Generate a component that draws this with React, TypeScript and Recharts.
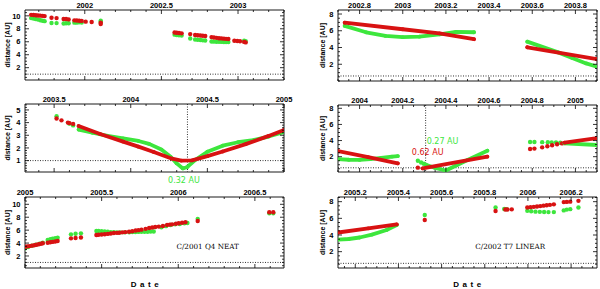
import React from 'react';
import { ScatterChart, Scatter, XAxis, YAxis, ReferenceLine, ReferenceArea, ReferenceDot } from 'recharts';

type Pt = [number, number];

const RED = '#d81212';
const GREEN = '#3de63d';
const SANS = '"Liberation Sans", Arial, sans-serif';
const DEJAVU = '"DejaVu Sans", sans-serif';
const SERIF = '"DejaVu Serif", serif';

// ---------- C/2001 Q4 NEAT: top-left ----------
const tlRedA: Pt[] = [[2001.65,10.15],[2001.665,10.12],[2001.68,10.1],[2001.695,10.06],[2001.71,10.03],[2001.725,10.0],[2001.738,9.96]];
const tlGreenA: Pt[] = [[2001.65,9.65],[2001.665,9.58],[2001.68,9.5],[2001.695,9.42],[2001.71,9.32],[2001.725,9.25],[2001.738,9.18]];
const tlRedB: Pt[] = [[2001.783,9.7],[2001.816,9.65],[2001.862,9.5],[2001.878,9.5],[2001.895,9.45],[2001.932,9.3],[2001.948,9.28],[2001.964,9.25],[2001.98,9.22],[2002.006,9.1],[2002.045,9.05],[2002.104,8.95],[2002.104,8.75]];
const tlGreenB: Pt[] = [[2001.783,8.9],[2001.816,8.88],[2001.862,8.82],[2001.878,8.85],[2001.895,8.85],[2001.932,8.95],[2001.948,8.95],[2001.964,9.0],[2001.98,8.98],[2002.104,9.25],[2002.104,9.1]];
const tlRedC: Pt[] = [[2002.586,7.42],[2002.6,7.38],[2002.615,7.35],[2002.632,7.3],[2002.688,7.18],[2002.72,7.05],[2002.737,7.0],[2002.754,6.97],[2002.77,6.93],[2002.786,6.88],[2002.827,6.72],[2002.843,6.66],[2002.86,6.6],[2002.876,6.55],[2002.892,6.52],[2002.908,6.48],[2002.922,6.45],[2002.937,6.42],[2002.976,6.15],[2002.995,6.12],[2003.013,6.08],[2003.04,5.98],[2003.05,5.9]];
const tlGreenC: Pt[] = [[2002.586,7.1],[2002.6,7.05],[2002.615,7.0],[2002.632,6.95],[2002.688,6.5],[2002.72,6.35],[2002.737,6.3],[2002.754,6.26],[2002.77,6.22],[2002.786,6.2],[2002.827,6.05],[2002.843,6.02],[2002.86,6.0],[2002.876,6.0],[2002.892,5.98],[2002.908,5.97],[2002.922,5.96],[2002.937,5.95],[2003.04,6.15],[2003.05,6.1]];

// ---------- middle-left ----------
const mlRedA: Pt[] = [[2003.516,4.32],[2003.548,4.18],[2003.59,4.0],[2003.6,3.96],[2003.624,3.9]];
const mlGreenA: Pt[] = [[2003.516,4.5],[2003.6,3.92],[2003.624,3.78]];
const mlGreenB: Pt[] = [[2003.66,3.45],[2003.75,3.2],[2003.85,2.95],[2003.95,2.75],[2004.05,2.55],[2004.12,2.32],[2004.2,1.87],[2004.26,1.3],[2004.3,0.78],[2004.34,0.38],[2004.37,0.5],[2004.42,1.05],[2004.5,1.7],[2004.6,2.18],[2004.7,2.45],[2004.8,2.62],[2004.9,2.9],[2005.0,3.25]];
const mlRedB: Pt[] = [[2003.66,3.73],[2003.8,3.1],[2003.95,2.5],[2004.05,2.1],[2004.15,1.68],[2004.27,1.15],[2004.33,1.0],[2004.4,1.02],[2004.5,1.35],[2004.6,1.72],[2004.75,2.3],[2004.9,2.95],[2005.0,3.42]];

// ---------- bottom-left ----------
const blRedA: Pt[] = [[2005.0,3.44],[2005.015,3.48],[2005.03,3.53],[2005.045,3.6],[2005.06,3.67],[2005.075,3.75],[2005.09,3.82],[2005.104,3.9],[2005.116,3.96]];
const blGreenA: Pt[] = [[2005.0,3.2],[2005.02,3.4],[2005.045,3.58],[2005.07,3.75],[2005.095,3.92],[2005.116,4.06]];
const blRedB: Pt[] = [[2005.148,4.06],[2005.165,4.12],[2005.18,4.18],[2005.197,4.25],[2005.213,4.32]];
const blGreenB: Pt[] = [[2005.148,4.47],[2005.165,4.58],[2005.18,4.68],[2005.197,4.75],[2005.213,4.83]];
const blRedC: Pt[] = [[2005.3,4.73],[2005.33,4.78],[2005.365,4.85]];
const blGreenC: Pt[] = [[2005.3,5.35],[2005.33,5.45],[2005.365,5.5]];
const blGreenD: Pt[] = [[2005.466,5.87],[2005.48,5.86],[2005.5,5.84],[2005.52,5.8],[2005.54,5.75],[2005.56,5.7],[2005.58,5.68],[2005.6,5.66],[2005.62,5.65],[2005.65,5.66],[2005.68,5.68],[2005.7,5.7],[2005.72,5.72],[2005.74,5.73],[2005.76,5.74],[2005.78,5.75],[2005.8,5.76],[2005.82,5.78],[2005.84,5.78],[2005.89,6.45],[2005.92,6.62],[2005.95,6.8],[2005.98,6.9],[2006.01,6.95],[2006.04,7.05],[2006.06,7.1]];
const blRedD: Pt[] = [[2005.466,5.25],[2005.48,5.28],[2005.5,5.32],[2005.52,5.36],[2005.54,5.42],[2005.56,5.48],[2005.58,5.55],[2005.6,5.58],[2005.614,5.6],[2005.635,5.66],[2005.655,5.7],[2005.679,5.76],[2005.7,5.84],[2005.722,5.94],[2005.74,6.0],[2005.76,6.08],[2005.787,6.2],[2005.81,6.33],[2005.83,6.42],[2005.85,6.48],[2005.873,6.55],[2005.9,6.65],[2005.927,6.8],[2005.945,6.86],[2005.96,6.9],[2005.985,7.0],[2006.003,7.06],[2006.025,7.14],[2006.047,7.21]];
const blRedE: Pt[] = [[2006.127,7.41],[2006.594,8.76],[2006.62,8.76]];
const blGreenE: Pt[] = [[2006.127,7.75],[2006.594,8.62],[2006.62,8.62]];

// ---------- C/2002 T7 LINEAR: top-right ----------
const trGreenA: Pt[] = [[2002.731,6.58],[2002.83,5.82],[2002.92,5.38],[2003.0,5.23],[2003.077,5.3],[2003.17,5.58],[2003.246,5.86],[2003.33,5.82]];
const trRedA: Pt[] = [[2002.731,6.97],[2003.0,6.18],[2003.17,5.7],[2003.33,4.99]];
const trGreenB: Pt[] = [[2003.577,4.7],[2003.72,3.42],[2003.785,2.75],[2003.85,2.1],[2003.9,1.7]];
const trRedB: Pt[] = [[2003.577,4.03],[2003.9,2.6]];

// ---------- middle-right ----------
const mrGreenA: Pt[] = [[2003.9,1.7],[2003.95,1.62],[2004.0,1.6],[2004.05,1.7],[2004.1,1.85],[2004.15,2.0],[2004.177,2.08]];
const mrRedA: Pt[] = [[2003.9,2.7],[2004.04,1.95],[2004.177,1.17]];
const mrGreenB: Pt[] = [[2004.27,1.5],[2004.285,1.28],[2004.298,1.12]];
const mrRedB: Pt[] = [[2004.27,0.64]];
const mrGreenC: Pt[] = [[2004.308,1.0],[2004.35,0.6],[2004.4,0.28],[2004.45,0.94],[2004.5,1.58],[2004.592,2.74]];
const mrRedC: Pt[] = [[2004.292,0.56],[2004.592,2.0]];
const mrGreenD: Pt[] = [[2004.79,3.82],[2004.81,3.82],[2004.846,3.8],[2004.872,3.8],[2004.89,3.78],[2004.91,3.78],[2004.93,3.72]];
const mrRedD: Pt[] = [[2004.79,2.95],[2004.81,3.0],[2004.846,3.16],[2004.87,3.3],[2004.892,3.42],[2004.915,3.55],[2004.938,3.65]];
const mrGreenE: Pt[] = [[2004.95,3.65],[2005.1,3.45]];
const mrRedE: Pt[] = [[2004.95,3.75],[2005.1,4.3]];

// ---------- bottom-right ----------
const brGreenA: Pt[] = [[2005.12,3.45],[2005.17,3.52],[2005.22,3.7],[2005.277,4.05],[2005.345,4.6],[2005.392,5.2]];
const brRedA: Pt[] = [[2005.12,4.3],[2005.26,4.8],[2005.392,5.28]];
const brGreenB: Pt[] = [[2005.522,6.4],[2005.85,7.3],[2005.89,7.12],[2005.9,7.1],[2005.997,6.9],[2006.015,6.85],[2006.035,6.8],[2006.055,6.78],[2006.075,6.76],[2006.095,6.75],[2006.12,6.75],[2006.166,6.95],[2006.18,7.05],[2006.196,7.1],[2006.234,7.3]];
const brRedB: Pt[] = [[2005.522,5.8],[2005.85,6.88],[2005.895,7.06],[2005.905,7.06],[2005.925,7.08],[2005.997,7.3],[2006.012,7.34],[2006.027,7.38],[2006.042,7.42],[2006.057,7.47],[2006.072,7.52],[2006.087,7.57],[2006.102,7.62],[2006.12,7.68],[2006.166,7.95],[2006.18,7.97],[2006.196,8.0],[2006.234,8.1]];

// ---------- tick labels ----------
const tlXMajor = [2002, 2002.5, 2003];
const mlXMajor = [2003.5, 2004, 2004.5, 2005];
const blXMajor = [2005, 2005.5, 2006, 2006.5];
const trXMajor = [2002.8, 2003, 2003.2, 2003.4, 2003.6, 2003.8];
const mrXMajor = [2004, 2004.2, 2004.4, 2004.6, 2004.8, 2005];
const brXMajor = [2005.2, 2005.4, 2005.6, 2005.8, 2006, 2006.2];
const yMajor10 = [2, 4, 6, 8, 10];
const yMajor5 = [1, 2, 3, 4, 5];
const yMajor8 = [2, 4, 6, 8];

type Seg = { pts: Pt[]; color: string; dense?: boolean };
type Note = { x: number; y: number; text: string; color: string; anchor: 'start' | 'middle'; font: string; size: number };
type Cfg = {
  left: number; top: number; w: number; h: number; axW: number; axH: number;
  xd: [number, number]; yd: [number, number];
  xMajor: number[]; xStep: number; yMajor: number[]; yStep: number;
  segs: Seg[]; hLine: number; vLine?: number; notes: Note[];
};

function range(a: number, b: number, step: number): number[] {
  const out: number[] = [];
  for (let i = Math.ceil(a / step - 1e-9); i * step <= b + 1e-9; i++) out.push(Math.round(i * step * 1000) / 1000);
  return out;
}
const isMajor = (list: number[], v: number) => list.some((m) => Math.abs(m - v) < 1e-6);
const fmt = (v: number) => String(Math.round(v * 100) / 100);
const toXY = (pts: Pt[]) => pts.map(([x, y]) => ({ x, y }));

const panels: Cfg[] = [
  {
    left: 25, top: 10, w: 259, h: 70, axW: 25, axH: 10,
    xd: [2001.61, 2003.3], yd: [0.1, 10.9], xMajor: tlXMajor, xStep: 0.1, yMajor: yMajor10, yStep: 0.5,
    segs: [
      { pts: tlGreenA, color: GREEN }, { pts: tlRedA, color: RED },
      { pts: tlGreenB, color: GREEN }, { pts: tlRedB, color: RED },
      { pts: tlGreenC, color: GREEN }, { pts: tlRedC, color: RED },
    ],
    hLine: 1, notes: [],
  },
  {
    left: 25, top: 104, w: 259, h: 68, axW: 25, axH: 12,
    xd: [2003.31, 2005.0], yd: [0.1, 5.47], xMajor: mlXMajor, xStep: 0.1, yMajor: yMajor5, yStep: 0.2,
    segs: [
      { pts: mlGreenA, color: GREEN }, { pts: mlRedA, color: RED },
      { pts: mlGreenB, color: GREEN, dense: true }, { pts: mlRedB, color: RED, dense: true },
    ],
    hLine: 1, vLine: 2004.37,
    notes: [{ x: 2004.347, y: -0.53, text: '0.32 AU', color: GREEN, anchor: 'middle', font: DEJAVU, size: 8 }],
  },
  {
    left: 25, top: 197, w: 259, h: 71, axW: 25, axH: 12,
    xd: [2005.0, 2006.69], yd: [0.14, 11.13], xMajor: blXMajor, xStep: 0.1, yMajor: yMajor10, yStep: 0.5,
    segs: [
      { pts: blGreenA, color: GREEN }, { pts: blRedA, color: RED },
      { pts: blGreenB, color: GREEN }, { pts: blRedB, color: RED },
      { pts: blGreenC, color: GREEN }, { pts: blRedC, color: RED },
      { pts: blGreenD, color: GREEN }, { pts: blRedD, color: RED },
      { pts: blGreenE, color: GREEN }, { pts: blRedE, color: RED },
    ],
    hLine: 1,
    notes: [{ x: 2005.988, y: 3.55, text: 'C/2001 Q4 NEAT', color: '#000', anchor: 'start', font: SERIF, size: 7.2 }],
  },
  {
    left: 338, top: 10, w: 259, h: 71, axW: 38, axH: 10,
    xd: [2002.7, 2003.9], yd: [0, 8.48], xMajor: trXMajor, xStep: 0.05, yMajor: yMajor8, yStep: 0.5,
    segs: [
      { pts: trGreenA, color: GREEN, dense: true }, { pts: trRedA, color: RED, dense: true },
      { pts: trGreenB, color: GREEN, dense: true }, { pts: trRedB, color: RED, dense: true },
    ],
    hLine: 0.6, notes: [],
  },
  {
    left: 338, top: 105, w: 259, h: 67, axW: 38, axH: 12,
    xd: [2003.9, 2005.1], yd: [0.1, 8.41], xMajor: mrXMajor, xStep: 0.05, yMajor: yMajor8, yStep: 0.5,
    segs: [
      { pts: mrGreenA, color: GREEN, dense: true }, { pts: mrRedA, color: RED, dense: true },
      { pts: mrGreenB, color: GREEN }, { pts: mrRedB, color: RED },
      { pts: mrGreenC, color: GREEN, dense: true }, { pts: mrRedC, color: RED, dense: true },
      { pts: mrGreenD, color: GREEN }, { pts: mrRedD, color: RED },
      { pts: mrGreenE, color: GREEN, dense: true }, { pts: mrRedE, color: RED, dense: true },
    ],
    hLine: 0.62, vLine: 2004.306,
    notes: [
      { x: 2004.311, y: 3.98, text: '0.27 AU', color: GREEN, anchor: 'start', font: DEJAVU, size: 8 },
      { x: 2004.242, y: 2.62, text: '0.62 AU', color: RED, anchor: 'start', font: DEJAVU, size: 8 },
    ],
  },
  {
    left: 338, top: 197, w: 259, h: 71, axW: 38, axH: 12,
    xd: [2005.12, 2006.32], yd: [0.04, 8.56], xMajor: brXMajor, xStep: 0.05, yMajor: yMajor8, yStep: 0.5,
    segs: [
      { pts: brGreenA, color: GREEN, dense: true }, { pts: brRedA, color: RED, dense: true },
      { pts: brGreenB, color: GREEN }, { pts: brRedB, color: RED },
    ],
    hLine: 0.6,
    notes: [{ x: 2005.756, y: 2.6, text: 'C/2002 T7 LINEAR', color: '#000', anchor: 'start', font: SERIF, size: 7.2 }],
  },
];

const dotShape = (color: string, r: number) => (p: any) => <circle cx={p.cx} cy={p.cy} r={r} fill={color} />;

function Panel({ c }: { c: Cfg }) {
  const mr = 12, mb = 14;
  const W = c.axW + c.w + mr;
  const H = c.axH + c.h + mb;
  const xTicks = range(c.xd[0], c.xd[1], c.xStep);
  const yTicks = range(c.yd[0], c.yd[1], c.yStep);
  const top = c.axH, bot = c.axH + c.h, lft = c.axW, rgt = c.axW + c.w;

  const xTick = (p: any) => {
    const v = p.payload.value;
    const x = p.x;
    const maj = isMajor(c.xMajor, v);
    const len = maj ? 4 : 2;
    return (
      <g>
        <line x1={x} x2={x} y1={top} y2={top + len} stroke="#000" strokeWidth={0.8} />
        <line x1={x} x2={x} y1={bot} y2={bot - len} stroke="#000" strokeWidth={0.8} />
        {maj ? (
          <text x={x} y={top - 2.3} textAnchor="middle" fontSize={7.5} fontWeight="bold" fontFamily={SANS} fill="#000">{fmt(v)}</text>
        ) : null}
      </g>
    );
  };
  const yTick = (p: any) => {
    const v = p.payload.value;
    const y = p.y;
    const maj = isMajor(c.yMajor, v);
    const len = maj ? 4 : 2;
    return (
      <g>
        <line x1={lft} x2={lft + len} y1={y} y2={y} stroke="#000" strokeWidth={0.8} />
        <line x1={rgt} x2={rgt - len} y1={y} y2={y} stroke="#000" strokeWidth={0.8} />
        {maj ? (
          <text x={lft - 4.5} y={y} dy="0.36em" textAnchor="end" fontSize={7.5} fontWeight="bold" fontFamily={SANS} fill="#000">{fmt(v)}</text>
        ) : null}
      </g>
    );
  };

  return (
    <div style={{ position: 'absolute', left: c.left - c.axW, top: c.top - c.axH, width: W, height: H }}>
      <ScatterChart width={W} height={H} margin={{ top: 0, right: mr, bottom: mb, left: 0 }}>
        <XAxis type="number" dataKey="x" orientation="top" domain={c.xd} allowDataOverflow ticks={xTicks} interval={0}
          tick={xTick} tickLine={false} axisLine={false} height={c.axH} />
        <YAxis type="number" dataKey="y" domain={c.yd} allowDataOverflow ticks={yTicks} interval={0}
          tick={yTick} tickLine={false} axisLine={false} width={c.axW} />
        <ReferenceArea x1={c.xd[0]} x2={c.xd[1]} y1={c.yd[0]} y2={c.yd[1]} fill="none" fillOpacity={0}
          stroke="#000" strokeWidth={0.9} ifOverflow="visible" />
        <ReferenceLine y={c.hLine} stroke="#000" strokeWidth={0.8} strokeDasharray="1 1.5" />
        {c.vLine !== undefined ? (
          <ReferenceLine x={c.vLine} stroke="#000" strokeWidth={0.8} strokeDasharray="1 1.5" />
        ) : null}
        {c.segs.map((s, i) => (
          <Scatter key={i} data={toXY(s.pts)} fill={s.color} isAnimationActive={false}
            line={s.dense ? { stroke: s.color, strokeWidth: 3.8, strokeLinecap: 'round', strokeLinejoin: 'round' } : false}
            shape={dotShape(s.color, s.dense ? 1.9 : 2.2)} />
        ))}
        {c.notes.map((n, i) => (
          <ReferenceDot key={'n' + i} x={n.x} y={n.y} r={0} fill="none" stroke="none" ifOverflow="visible"
            label={{ value: n.text, position: n.anchor === 'start' ? 'right' : 'center', offset: 0, fill: n.color, fontSize: n.size, fontFamily: n.font }} />
        ))}
      </ScatterChart>
    </div>
  );
}

export default function App() {
  return (
    <div style={{ position: 'absolute', left: 0, top: 0, width: 600, height: 289, overflow: 'hidden', background: '#fff' }}>
      {panels.map((c, i) => <Panel key={i} c={c} />)}
      <svg width={600} height={289} style={{ position: 'absolute', left: 0, top: 0, pointerEvents: 'none' }}>
        {panels.map((c, i) => {
          const x = c.left < 300 ? 7.5 : 322.5;
          const y = c.top + c.h / 2;
          return (
            <text key={i} x={x} y={y} transform={`rotate(-90, ${x}, ${y})`} textAnchor="middle" dominantBaseline="central"
              fontSize={7} fontWeight="bold" fontFamily={SANS} fill="#000">distance [AU]</text>
          );
        })}
        <text x={146.5} y={287} textAnchor="middle" fontSize={8} fontWeight="bold" fontFamily={SANS} letterSpacing={3.5} fill="#000">Date</text>
        <text x={469} y={287} textAnchor="middle" fontSize={8} fontWeight="bold" fontFamily={SANS} letterSpacing={3.5} fill="#000">Date</text>
      </svg>
    </div>
  );
}
